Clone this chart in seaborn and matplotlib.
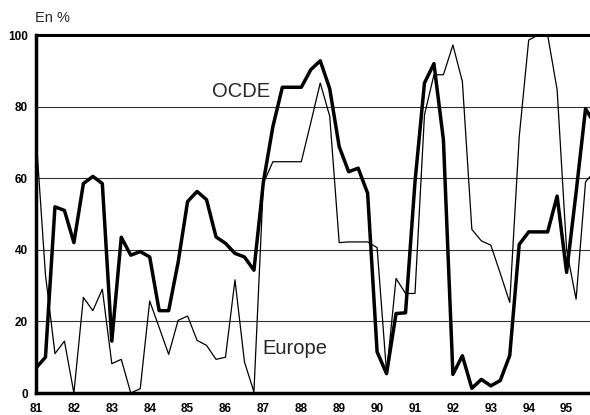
import numpy as np
import pandas as pd
import seaborn as sns
from matplotlib import pyplot as plt

# 四半期データ(1981年〜1995年)
annees = list(range(81, 96))
ocde = [7, 10, 52, 51,
        42, 58.5, 60.5, 58.5,
        14.5, 43.5, 38.5, 39.5,
        38, 23, 23, 36.5,
        53.5, 56.3, 54, 43.6,
        41.8, 39, 38, 34.3,
        59, 74.4, 85.4, 85.4,
        85.4, 90.3, 92.8, 85,
        68.8, 61.8, 62.8, 55.8,
        11.5, 5.4, 22.2, 22.4,
        59, 86.6, 92, 70.7,
        5.2, 10.4, 1.3, 3.8,
        2, 3.5, 10.5, 41.5,
        45, 45, 45, 55,
        33.7, 56, 79.4, 75]
europe = [72, 33, 11, 14.5,
          0, 26.7, 23, 29,
          8.2, 9.4, 0, 1.2,
          25.7, 18.3, 10.8, 20.3,
          21.5, 14.7, 13.3, 9.4,
          10, 31.6, 8.7, 0.3,
          58.6, 64.6, 64.6, 64.6,
          64.6, 75.5, 86.6, 77.3,
          42, 42.2, 42.2, 42.2,
          40.6, 5.6, 32, 27.8,
          27.8, 77.7, 88.9, 88.9,
          97.2, 87, 45.7, 42.5,
          41.3, 33.4, 25.3, 71.6,
          98.6, 100, 100, 84.7,
          40, 26.2, 59, 62]

trim = 81 + np.arange(len(ocde)) / 4
df = pd.DataFrame({"trim": np.concatenate([trim, trim]),
                   "val": ocde + europe,
                   "serie": ["OCDE"] * len(ocde) + ["Europe"] * len(europe)})

sns.set_style("white")
plt.rcParams["font.family"] = ["Liberation Sans", "DejaVu Sans"]

fig = plt.figure(figsize=(5.9, 4.15), dpi=100)
ax = fig.add_axes([36 / 590, 1 - 393 / 415, 554 / 590, (393 - 35) / 415])

sns.lineplot(data=df, x="trim", y="val", hue="serie", size="serie",
             sizes={"OCDE": 2.5, "Europe": 0.9},
             palette={"OCDE": "black", "Europe": "black"},
             legend=False, ax=ax)

ax.set_xlim(81, 81 + 554 / 37.9)
ax.set_ylim(0, 100)
ax.set_xticks(annees)
ax.set_xticklabels([str(a) for a in annees], fontsize=8.5, fontweight="bold")
ax.set_yticks([0, 20, 40, 60, 80, 100])
ax.set_yticklabels(["0", "20", "40", "60", "80", "100"], fontsize=8.5, fontweight="bold")
ax.tick_params(axis="x", direction="in", length=4, width=1, pad=7, colors="black")
ax.tick_params(axis="y", direction="out", length=3, width=1, pad=3, colors="black")
for y in [20, 40, 60, 80]:
    ax.axhline(y, color="#333333", lw=0.8, zorder=0)

ax.spines["right"].set_visible(False)
ax.spines["left"].set_linewidth(2.5)
ax.spines["bottom"].set_linewidth(2.5)
ax.spines["top"].set_linewidth(2.2)
for s in ["left", "bottom", "top"]:
    ax.spines[s].set_color("black")

ax.set_xlabel("")
ax.set_ylabel("")
ax.text(85.64, 82.7, "OCDE", fontsize=14.5, ha="left", va="baseline")
ax.text(86.96, 10.8, "Europe", fontsize=14.5, ha="left", va="baseline")
fig.text(35 / 590, 1 - 22 / 415, "En %", fontsize=10.5, ha="left", va="baseline")

plt.savefig("out.png", dpi=100)
